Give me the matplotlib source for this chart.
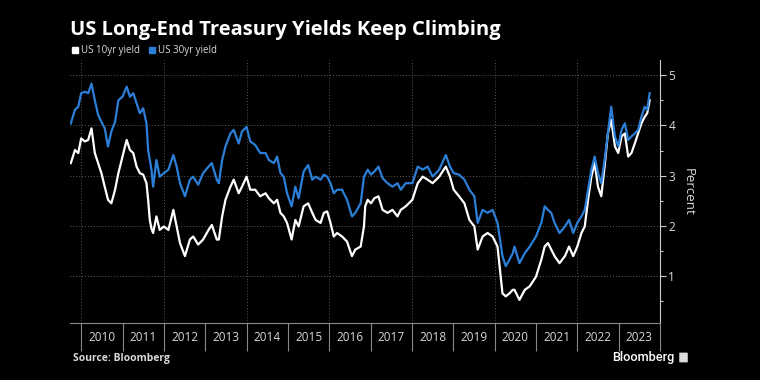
"""
plot.py

US long-end treasury yields, Bloomberg style chart
"""
import matplotlib
matplotlib.use("Agg")
import matplotlib.pyplot as plt
from matplotlib.lines import Line2D
from matplotlib.patches import FancyBboxPatch

# decimal year of each reading
years = [
    2009.75, 2009.85, 2009.93, 2010.00, 2010.09, 2010.17, 2010.25, 2010.33,
    2010.41, 2010.49, 2010.57, 2010.65, 2010.73, 2010.82, 2010.90, 2011.00,
    2011.10, 2011.18, 2011.26, 2011.34, 2011.42, 2011.50, 2011.58, 2011.62,
    2011.66, 2011.70, 2011.74, 2011.82, 2011.90, 2012.00, 2012.11, 2012.23,
    2012.31, 2012.39, 2012.51, 2012.63, 2012.71, 2012.83, 2012.95, 2013.08,
    2013.16, 2013.28,
    2013.33, 2013.41, 2013.49, 2013.61, 2013.69, 2013.81, 2013.89, 2014.00,
    2014.09, 2014.21, 2014.33, 2014.46, 2014.54, 2014.66, 2014.74, 2014.82,
    2014.90, 2014.98, 2015.09, 2015.18, 2015.26, 2015.38, 2015.49, 2015.59,
    2015.67, 2015.79, 2015.87, 2015.95, 2016.03, 2016.11, 2016.19, 2016.31,
    2016.43, 2016.55, 2016.63, 2016.76, 2016.84,
    2016.87, 2016.93, 2017.01, 2017.09, 2017.19, 2017.29, 2017.41, 2017.53,
    2017.65, 2017.73, 2017.85, 2018.01, 2018.14, 2018.26, 2018.38, 2018.50,
    2018.66, 2018.82, 2018.92, 2019.01, 2019.14, 2019.27, 2019.39, 2019.51,
    2019.59, 2019.71, 2019.83, 2019.95, 2020.07, 2020.19, 2020.27, 2020.36,
    2020.44,
    2020.48, 2020.60, 2020.73, 2020.85, 2021.00, 2021.13, 2021.21, 2021.29,
    2021.37, 2021.45, 2021.57, 2021.70, 2021.80, 2021.90, 2022.00, 2022.10,
    2022.18, 2022.26, 2022.34, 2022.42, 2022.50, 2022.58, 2022.66, 2022.74,
    2022.82, 2022.91, 2022.99, 2023.07, 2023.15, 2023.23, 2023.31, 2023.39,
    2023.47, 2023.55, 2023.63, 2023.69, 2023.75,
]

yield_30yr = [
    4.04, 4.31, 4.37, 4.64, 4.67, 4.64, 4.83, 4.50,
    4.21, 4.07, 3.94, 3.58, 3.88, 4.07, 4.50, 4.57,
    4.77, 4.57, 4.64, 4.44, 4.24, 4.34, 4.04, 3.51,
    3.31, 3.12, 2.78, 3.31, 2.98, 3.05, 3.12, 3.41,
    3.18, 2.85, 2.59, 2.92, 2.98, 2.82, 3.05, 3.18,
    3.25, 2.92,
    2.85, 3.31, 3.58, 3.84, 3.91, 3.64, 3.88, 3.97,
    3.68, 3.61, 3.45, 3.45, 3.31, 3.25, 3.38, 3.05,
    2.98, 2.65, 2.39, 2.78, 2.55, 3.08, 3.21, 2.92,
    2.98, 2.92, 3.02, 2.98, 2.85, 2.65, 2.72, 2.72,
    2.52, 2.19, 2.26, 2.45, 2.98,
    3.02, 3.12, 3.02, 3.08, 3.18, 2.95, 2.85, 2.78,
    2.85, 2.72, 2.85, 2.85, 3.18, 3.12, 3.18, 2.98,
    3.12, 3.41, 3.18, 3.05, 3.02, 2.92, 2.72, 2.59,
    2.06, 2.32, 2.26, 2.32, 2.06, 1.40, 1.20, 1.33,
    1.46,
    1.59, 1.26, 1.46, 1.59, 1.79, 2.06, 2.39, 2.32,
    2.26, 2.06, 1.86, 1.99, 2.12, 1.86, 2.06, 2.19,
    2.32, 2.72, 3.12, 3.38, 3.05, 2.85, 3.31, 3.84,
    4.37, 3.78, 3.58, 3.91, 4.04, 3.71, 3.78, 3.84,
    3.91, 4.17, 4.37, 4.31, 4.64,
]

yield_10yr = [
    3.25, 3.51, 3.45, 3.74, 3.68, 3.71, 3.94, 3.45,
    3.25, 3.05, 2.78, 2.52, 2.45, 2.72, 3.05, 3.38,
    3.71, 3.51, 3.45, 3.18, 3.05, 3.02, 2.85, 2.52,
    2.12, 1.95, 1.86, 2.19, 1.92, 1.99, 1.92, 2.32,
    1.99, 1.66, 1.40, 1.73, 1.79, 1.63, 1.73, 1.92,
    2.02, 1.73,
    1.73, 2.19, 2.52, 2.78, 2.92, 2.65, 2.78, 2.98,
    2.72, 2.72, 2.59, 2.65, 2.55, 2.45, 2.52, 2.26,
    2.19, 2.06, 1.73, 2.12, 1.99, 2.39, 2.45, 2.26,
    2.12, 2.06, 2.26, 2.29, 2.06, 1.79, 1.86, 1.79,
    1.69, 1.40, 1.53, 1.59, 1.99,
    2.39, 2.52, 2.45, 2.55, 2.59, 2.32, 2.26, 2.32,
    2.19, 2.32, 2.39, 2.52, 2.85, 2.98, 2.92, 2.85,
    2.98, 3.18, 2.98, 2.72, 2.59, 2.45, 2.12, 1.99,
    1.53, 1.79, 1.86, 1.79, 1.59, 0.66, 0.60, 0.66,
    0.73,
    0.73, 0.53, 0.73, 0.80, 0.99, 1.33, 1.59, 1.66,
    1.53, 1.40, 1.26, 1.40, 1.59, 1.40, 1.59, 1.86,
    1.99, 2.52, 2.98, 3.25, 2.78, 2.59, 3.18, 3.84,
    4.11, 3.58, 3.45, 3.78, 3.84, 3.38, 3.45, 3.64,
    3.84, 4.04, 4.17, 4.24, 4.50,
]

year_labels = list(range(2010, 2024))
y_ticks = [1, 2, 3, 4, 5]

BLUE = "#2b7fd6"
GRID = "#5a5a5a"
TEXT = "#d9d9d9"

fig = plt.figure(figsize=(7.6, 3.8), dpi=100, facecolor="black")
ax = fig.add_axes([70 / 760, 1 - 323 / 380, 590 / 760, 263 / 380])
ax.set_facecolor("black")

ax.plot(years, yield_10yr, color="white", lw=1.6, zorder=3)
ax.plot(years, yield_30yr, color=BLUE, lw=1.6, zorder=4)

ax.set_xlim(2009.73, 2024.0)
ax.set_ylim(0.07, 5.3)

# year boundaries as long ticks, labels centred on each year
ax.set_xticks(list(range(2010, 2025)))
ax.set_xticklabels([])
ax.set_xticks([y + 0.5 for y in year_labels], minor=True)
ax.set_xticklabels([str(y) for y in year_labels], minor=True,
                   fontsize=8.5, color=TEXT, family="Open Sans")
ax.tick_params(axis="x", which="major", length=20, width=0.8, color="#8a8a8a")
ax.tick_params(axis="x", which="minor", length=0, pad=6)

# y axis on the right
ax.yaxis.tick_right()
ax.yaxis.set_label_position("right")
ax.set_yticks(y_ticks)
ax.set_yticklabels([str(v) for v in y_ticks], fontsize=8.5, color=TEXT,
                   family="Open Sans")
ax.set_yticks([0.5, 1.5, 2.5, 3.5, 4.5], minor=True)
ax.tick_params(axis="y", which="major", length=4, width=0.8, color="#cccccc", pad=2)
ax.tick_params(axis="y", which="minor", length=2.5, width=0.8, color="#cccccc")
ax.set_ylabel("Percent", rotation=270, color=TEXT, fontsize=9.5,
              family="Open Sans", labelpad=14)

# dotted grid
ax.grid(axis="y", which="major", color=GRID, linestyle=(0, (1, 2)), lw=0.7)
for yr in range(2010, 2024, 2):
    ax.axvline(yr, color=GRID, linestyle=(0, (1, 2)), lw=0.7, zorder=1)

for side in ["top", "left"]:
    ax.spines[side].set_visible(False)
ax.spines["bottom"].set_color("#8a8a8a")
ax.spines["right"].set_color("#cccccc")

# title, legend and footer
fig.text(70 / 760, 1 - 30 / 380, "US Long-End Treasury Yields Keep Climbing",
         color="white", fontsize=14.5, fontweight="bold", family="Open Sans",
         va="center", ha="left")

handles = [Line2D([], [], marker="s", ls="", color="white", markersize=5),
           Line2D([], [], marker="s", ls="", color=BLUE, markersize=5)]
fig.legend(handles, ["US 10yr yield", "US 30yr yield"], loc="center left",
           bbox_to_anchor=(72 / 760, 1 - 51 / 380), ncol=2, frameon=False,
           handlelength=0.6, handletextpad=0.3, columnspacing=1.0,
           borderpad=0, borderaxespad=0,
           prop={"family": "Open Sans", "size": 7}, labelcolor=TEXT)

fig.text(73 / 760, 1 - 358 / 380, "Source: Bloomberg", color=TEXT,
         fontsize=7.5, fontweight="bold", family="Open Sans", va="center")
fig.text(612 / 760, 1 - 357 / 380, "Bloomberg", color="white",
         fontsize=9.2, family="Roboto", fontweight="medium", va="center")
fig.patches.append(FancyBboxPatch((680 / 760, 1 - 362 / 380), 7 / 760, 9 / 380,
                                  boxstyle="round,pad=0.001", transform=fig.transFigure,
                                  facecolor="#dddddd", edgecolor="none"))

fig.savefig("out.png", dpi=100, facecolor="black")
